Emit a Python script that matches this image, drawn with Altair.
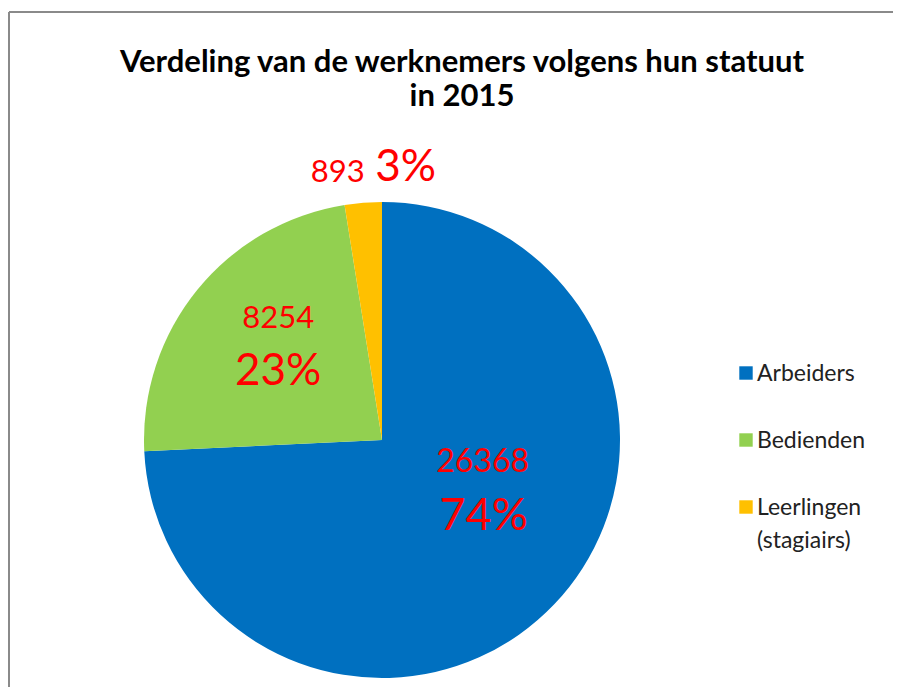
import altair as alt
import pandas as pd

# ---- data ----
categories = ["Arbeiders", "Bedienden", "Leerlingen (stagiairs)"]
legend_labels = ["Arbeiders", "Bedienden", "Leerlingen\n(stagiairs)"]
values = [26368, 8254, 893]
colors = ["#0070C0", "#92D050", "#FFC000"]
title_lines = ["Verdeling van de werknemers volgens hun statuut", "in 2015"]

df = pd.DataFrame({
    "cat": categories,
    "label": legend_labels,
    "value": values,
    "idx": list(range(len(categories))),
})
total = sum(values)

FONT = "Lato"
CX, CY, R = 374, 428, 238
RED = "#FF0000"

base = alt.Chart(df)
color = alt.Color("cat:N", scale=alt.Scale(domain=categories, range=colors), legend=None)
theta_scale = alt.Scale(domain=[0, total])

pie = base.mark_arc(radius=R).encode(
    theta=alt.Theta("value:Q", stack=True, scale=theta_scale),
    color=color,
    order=alt.Order("idx:Q"),
    x=alt.value(CX),
    y=alt.value(CY),
)

lab = (
    base.transform_window(cum="sum(value)", sort=[alt.SortField("idx")], frame=[None, 0])
    .transform_joinaggregate(total="sum(value)")
    .transform_calculate(
        mid="datum.cum - datum.value / 2",
        num="format(datum.value, 'd')",
        pct="format(datum.value / datum.total * 100, '.0f') + '%'",
    )
)


def label(cat, field, size, radius, dx, dy):
    return (
        lab.transform_filter(alt.datum.cat == cat)
        .mark_text(radius=radius, dx=dx, dy=dy, fontSize=size, font=FONT,
                   color=RED, align="center", baseline="middle")
        .encode(
            theta=alt.Theta("mid:Q", scale=theta_scale),
            text=alt.Text(f"{field}:N"),
            x=alt.value(CX),
            y=alt.value(CY),
        )
    )


labels = [
    label(categories[0], "num", 32, 110, 21, -54),
    label(categories[0], "pct", 45, 110, 22, 0),
    label(categories[1], "num", 31, 139, 4, -33),
    label(categories[1], "pct", 44, 139, 4, 20),
    label(categories[2], "num", 31, 270, -23, 2),
    label(categories[2], "pct", 44, 270, 45, -3),
]

legend_y = alt.Y("cat:N", scale=alt.Scale(type="point", domain=categories, range=[361, 495], padding=0), axis=None)
leg_sq = base.mark_square(size=180, opacity=1).encode(
    x=alt.value(738), y=legend_y, color=color
)
leg_tx = base.mark_text(align="left", baseline="top", dy=-10, fontSize=23, font=FONT,
                        lineBreak="\n", lineHeight=33, color="#222222").encode(
    x=alt.value(749), y=legend_y, text="label:N"
)

one = alt.Chart(pd.DataFrame({"k": [0]}))
edge_cover = one.mark_rule(color="white", strokeWidth=4).encode(
    x=alt.value(884), y=alt.value(1), y2=alt.value(700)
)
border_top = one.mark_rule(color="#8a8a8a", strokeWidth=2).encode(
    x=alt.value(1), x2=alt.value(900), y=alt.value(0)
)
border_left = one.mark_rule(color="#8a8a8a", strokeWidth=2).encode(
    x=alt.value(1), y=alt.value(0), y2=alt.value(700)
)

chart = alt.layer(pie, *labels, leg_sq, leg_tx, edge_cover, border_top, border_left).properties(
    width=885,
    height=675,
    background="white",
    autosize=alt.AutoSizeParams(type="none"),
    padding={"top": 4, "left": 0, "right": 0, "bottom": 0},
    title=alt.TitleParams(
        title_lines, font=FONT, fontSize=31, fontWeight="bold", color="#000000",
        lineHeight=34, anchor="middle", baseline="bottom", offset=0, dx=11.5, dy=133,
    ),
).configure_view(stroke="transparent", strokeWidth=0)

chart.save("out.html", embed_options={"renderer": "svg", "actions": False})
